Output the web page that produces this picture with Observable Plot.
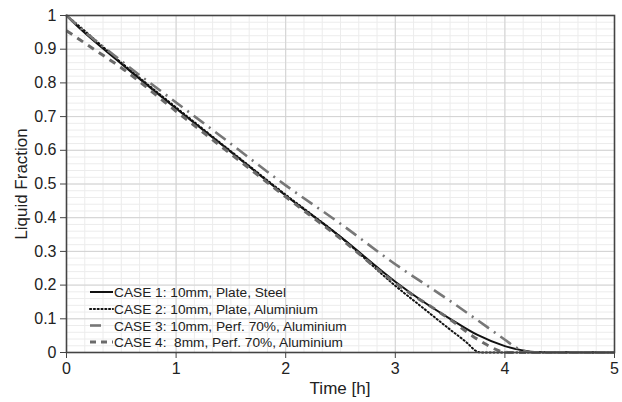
<!DOCTYPE html>
<html>
<head>
<meta charset="utf-8">
<script src="https://cdn.jsdelivr.net/npm/d3@7"></script>
<script src="https://cdn.jsdelivr.net/npm/@observablehq/plot@0.6"></script>
<style>
  html, body { margin: 0; padding: 0; background: #fff; }
  #chart { position: relative; width: 622px; height: 402px; }
</style>
</head>
<body>
<div id="chart"></div>
<script>
// ---- Data ----
const seriesNames = [
  "CASE 1: 10mm, Plate, Steel",
  "CASE 2: 10mm, Plate, Aluminium",
  "CASE 3: 10mm, Perf. 70%, Aluminium",
  "CASE 4:  8mm, Perf. 70%, Aluminium"
];
const case1Time = [0, 0.03, 0.5, 1, 1.5, 2, 2.5, 3, 3.25, 3.5, 3.75, 4, 4.15, 4.3, 5];
const case1Frac = [1, 0.99, 0.857, 0.724, 0.595, 0.466, 0.343, 0.21, 0.152, 0.1, 0.052, 0.019, 0.007, 0.001, 0];
const case2Time = [0, 0.03, 0.5, 1, 1.5, 2, 2.5, 3, 3.25, 3.5, 3.65, 3.74, 3.78, 5];
const case2Frac = [1, 0.992, 0.86, 0.727, 0.597, 0.468, 0.343, 0.198, 0.133, 0.068, 0.03, 0.004, 0, 0];
const case3Time = [0, 0.05, 0.5, 1, 1.4, 2, 2.5, 3, 3.5, 4, 4.1, 4.25, 5];
const case3Frac = [1, 0.985, 0.865, 0.742, 0.644, 0.496, 0.382, 0.262, 0.153, 0.038, 0.015, 0, 0];
const case4Time = [0, 0.25, 0.5, 1, 1.5, 2, 2.5, 3, 3.5, 3.7, 3.85, 3.95, 4.05, 5];
const case4Frac = [0.955, 0.9, 0.845, 0.716, 0.589, 0.462, 0.338, 0.206, 0.098, 0.05, 0.02, 0.005, 0, 0];
const xTicks = [0, 1, 2, 3, 4, 5];
const yTicks = [0, 0.1, 0.2, 0.3, 0.4, 0.5, 0.6, 0.7, 0.8, 0.9, 1];

// ---- Styles ----
const styles = [
  {stroke: "#111", strokeWidth: 2, dash: null},
  {stroke: "#111", strokeWidth: 2, dash: "1.2,2.6"},
  {stroke: "#777", strokeWidth: 2.6, dash: "13,6,2,6"},
  {stroke: "#6a6a6a", strokeWidth: 3, dash: "7,6"}
];

const toRows = (ts, ys, name) => ts.map((t, i) => ({time: t, frac: ys[i], name}));
const allSeries = [
  toRows(case1Time, case1Frac, seriesNames[0]),
  toRows(case2Time, case2Frac, seriesNames[1]),
  toRows(case3Time, case3Frac, seriesNames[2]),
  toRows(case4Time, case4Frac, seriesNames[3])
];

const minorX = d3.range(0, 5.0001, 1 / 6);
const minorY = d3.range(0, 1.0001, 0.02);

const font = "'Liberation Sans', Arial, Helvetica, sans-serif";
const fmt = d => String(+(+d).toFixed(2));

const lineMarks = allSeries.map((rows, i) => Plot.line(rows, {
  x: "time", y: "frac", curve: "monotone-x",
  stroke: styles[i].stroke, strokeWidth: styles[i].strokeWidth,
  strokeDasharray: styles[i].dash, strokeLinecap: i === 1 ? "round" : "butt"
}));

const chart = Plot.plot({
  width: 622, height: 402,
  marginLeft: 66, marginRight: 8, marginTop: 15, marginBottom: 50,
  x: {domain: [0, 5]},
  y: {domain: [0, 1]},
  style: {fontFamily: font, fontSize: "16px", color: "#222", background: "#fff"},
  marks: [
    Plot.ruleX(minorX, {stroke: "#ececec", strokeWidth: 1}),
    Plot.ruleY(minorY, {stroke: "#ececec", strokeWidth: 1}),
    Plot.ruleX(xTicks, {stroke: "#d2d2d2", strokeWidth: 1}),
    Plot.ruleY(yTicks, {stroke: "#d2d2d2", strokeWidth: 1}),
    ...lineMarks,
    Plot.frame({stroke: "#444", strokeWidth: 1.6}),
    Plot.axisX({ticks: xTicks, tickFormat: fmt, tickSize: 6, tickPadding: 4, label: null, fontSize: 16, stroke: "#444"}),
    Plot.axisY({ticks: yTicks, tickFormat: fmt, tickSize: 6, tickPadding: 4, label: null, fontSize: 16, stroke: "#444"})
  ]
});

document.getElementById("chart").appendChild(chart);

// ---- Titles and legend ----
const svg = d3.select(chart);
svg.append("text")
  .attr("x", 340).attr("y", 394)
  .attr("text-anchor", "middle")
  .style("font-family", font).style("font-size", "17px").attr("fill", "#222")
  .text("Time [h]");
svg.append("text")
  .attr("transform", "translate(27,184) rotate(-90)")
  .attr("text-anchor", "middle")
  .style("font-family", font).style("font-size", "17px").attr("fill", "#222")
  .text("Liquid Fraction");

const legend = svg.append("g").attr("text-anchor", "start");
const rowY = [292, 309, 325.5, 342];
seriesNames.forEach((name, i) => {
  const g = legend.append("g").attr("transform", `translate(0,${rowY[i]})`);
  g.append("line")
    .attr("x1", 90).attr("x2", 113).attr("y1", 0).attr("y2", 0)
    .attr("stroke", styles[i].stroke).attr("stroke-width", styles[i].strokeWidth)
    .attr("stroke-dasharray", i === 2 ? "11,30" : (i === 3 ? "6,5" : styles[i].dash))
    .attr("stroke-linecap", i === 1 ? "round" : "butt");
  g.append("text")
    .attr("x", 114).attr("y", 5)
    .attr("text-anchor", "start")
    .style("font-family", font).style("font-size", "13.7px").attr("fill", "#222")
    .style("white-space", "pre")
    .attr("xml:space", "preserve")
    .text(name);
});
</script>
</body>
</html>
